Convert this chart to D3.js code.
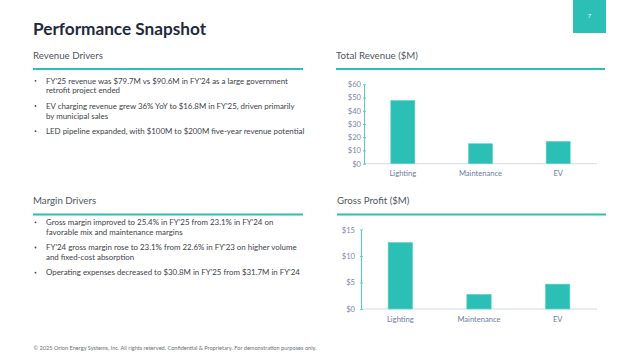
<!DOCTYPE html>
<html><head><meta charset="utf-8">
<script src="https://cdn.jsdelivr.net/npm/d3@7"></script>
<style>
html,body{margin:0;padding:0;background:#fff;}
svg{display:block;font-family:Lato,"Open Sans",sans-serif;}
</style></head>
<body><svg id="c" width="640" height="360"></svg>
<script>
const categories = ["Lighting", "Maintenance", "EV"];
const revenueValues = [47.8, 15.1, 16.8];
const grossProfitValues = [12.55, 2.75, 4.7];
const revenueTicks = [0, 10, 20, 30, 40, 50, 60];
const profitTicks = [0, 5, 10, 15];
const revenueBullets = [
  ["FY'25 revenue was $79.7M vs $90.6M in FY'24 as a large government", "retrofit project ended"],
  ["EV charging revenue grew 36% YoY to $16.8M in FY'25, driven primarily", "by municipal sales"],
  ["LED pipeline expanded, with $100M to $200M five-year revenue potential"]
];
const marginBullets = [
  ["Gross margin improved to 25.4% in FY'25 from 23.1% in FY'24 on", "favorable mix and maintenance margins"],
  ["FY'24 gross margin rose to 23.1% from 22.6% in FY'23 on higher volume", "and fixed-cost absorption"],
  ["Operating expenses decreased to $30.8M in FY'25 from $31.7M in FY'24"]
];

const teal = "#2bbfb5";
const svg = d3.select("#c");

// page number box
svg.append("rect").attr("x", 573).attr("y", 0).attr("width", 33).attr("height", 33).attr("fill", teal);
svg.append("text").attr("x", 589.5).attr("y", 18).attr("text-anchor", "middle")
  .attr("font-size", 6.5).attr("fill", "#e6f7f5").text("7");

// title
svg.append("text").attr("x", 33).attr("y", 35).attr("font-size", 17.2).attr("font-weight", 700)
  .attr("fill", "#1f2b3d").text("Performance Snapshot");

function header(x, y, x2, lineY, label) {
  svg.append("text").attr("x", x).attr("y", y).attr("font-size", 9.7).attr("fill", "#50555d").text(label);
  svg.append("line").attr("x1", x).attr("x2", x2).attr("y1", lineY).attr("y2", lineY)
    .attr("stroke", teal).attr("stroke-width", 2);
}
header(33, 59, 303, 69, "Revenue Drivers");
header(33, 204, 303, 214.5, "Margin Drivers");
header(336, 59, 605, 69, "Total Revenue ($M)");
header(337, 204, 606, 214.5, "Gross Profit ($M)");

function bullets(list, startY) {
  let y = startY;
  list.forEach(lines => {
    svg.append("circle").attr("cx", 35.5).attr("cy", y - 2.7).attr("r", 0.9).attr("fill", "#444");
    lines.forEach((ln, i) => {
      svg.append("text").attr("x", 46).attr("y", y + i * 9.8).attr("font-size", 7.9)
        .attr("fill", "#3d4149").text(ln);
    });
    y += (lines.length - 1) * 9.8 + 15.4;
  });
}
bullets(revenueBullets, 83.5);
bullets(marginBullets, 225);

function barChart(values, ticks, yMax, x0, x1, yTop, yBottom, labelY, tickLabelX) {
  const g = svg.append("g");
  const x = d3.scaleBand().domain(categories).range([x0, x1]).paddingInner(0.69).paddingOuter(0.345);
  const y = d3.scaleLinear().domain([0, yMax]).range([yBottom, yTop]);
  g.append("line").attr("x1", x0).attr("x2", x1).attr("y1", yBottom).attr("y2", yBottom)
    .attr("stroke", "#d5d9ea").attr("stroke-width", 1);
  g.selectAll("rect.bar").data(values).join("rect").attr("class", "bar")
    .attr("x", (d, i) => x(categories[i])).attr("width", x.bandwidth())
    .attr("y", d => y(d)).attr("height", d => yBottom - y(d))
    .attr("fill", teal).attr("stroke", "#5fd3ca").attr("stroke-width", 0.6);
  const yAxis = d3.axisLeft(y).tickValues(ticks).tickSize(0).tickFormat(d => "$" + d);
  const ya = g.append("g").attr("transform", `translate(${x0},0)`).call(yAxis);
  ya.select(".domain").attr("stroke", "#55cfc4").attr("stroke-width", 1);
  ya.selectAll(".tick text").attr("x", tickLabelX - x0).attr("font-size", 7.6)
    .attr("fill", "#7c86ad").attr("font-family", "Lato, sans-serif");
  ya.selectAll(".tick").append("line").attr("x1", -1).attr("x2", 2).attr("stroke", "#55cfc4");
  const xAxis = d3.axisBottom(x).tickSize(0);
  const xa = g.append("g").attr("transform", `translate(0,${yBottom})`).call(xAxis);
  xa.select(".domain").remove();
  xa.selectAll(".tick text").attr("y", labelY - yBottom).attr("dy", 0).attr("font-size", 7.6)
    .attr("fill", "#6f7ba3").attr("font-family", "Lato, sans-serif");
}
barChart(revenueValues, revenueTicks, 60, 364, 597, 84.3, 163.7, 176, 361);
barChart(grossProfitValues, profitTicks, 15, 361, 597, 229.6, 309, 321.5, 355);

// footer
svg.append("text").attr("x", 33.5).attr("y", 349.5).attr("font-size", 5.6).attr("fill", "#6b6f76")
  .text("© 2025 Orion Energy Systems, Inc. All rights reserved. Confidential & Proprietary. For demonstration purposes only.");
</script></body></html>
